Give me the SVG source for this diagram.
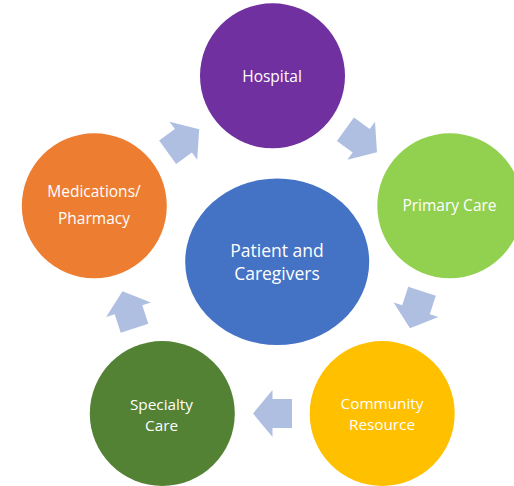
<svg xmlns="http://www.w3.org/2000/svg" width="514" height="486" viewBox="0 0 514 486">
<defs>
<style>
.lbl{font-family:"Open Sans","Liberation Sans",sans-serif;font-size:15.5px;fill:#FFFFFF;text-anchor:middle}
.ctr{font-size:17.5px}
.tight{font-size:15.3px}
.arr{fill:#AFBFE1}
</style>
<polygon id="blk" points="-19.5,-14.5 0,-14.5 0,-23.5 19.5,0 0,23.5 0,14.5 -19.5,14.5"/>
</defs>
<rect width="514" height="486" fill="#FFFFFF"/>
<g id="connectors" class="arr">
<use href="#blk" transform="translate(361.2,140.8) rotate(36)"/>
<use href="#blk" transform="translate(416,309.7) rotate(108)"/>
<use href="#blk" transform="translate(272.5,413.5) rotate(180)"/>
<use href="#blk" transform="translate(128.5,309.7) rotate(252)"/>
<use href="#blk" transform="translate(183.4,140.8) rotate(324)"/>
</g>
<g id="patient">
<ellipse cx="277.2" cy="261.7" rx="92" ry="83.3" fill="#4472C4"/>
<text class="lbl ctr"><tspan x="277" y="256.7">Patient and</tspan><tspan x="277" y="280">Caregivers</tspan></text>
</g>
<g id="hospital">
<circle cx="272.5" cy="75.8" r="72.5" fill="#7030A0"/>
<text class="lbl" x="272" y="81.7">Hospital</text>
</g>
<g id="primary-care">
<circle cx="449.8" cy="205.8" r="72.5" fill="#92D050"/>
<text class="lbl" x="449.5" y="211">Primary Care</text>
</g>
<g id="community-resource">
<circle cx="382.2" cy="413.5" r="72.5" fill="#FFC000"/>
<text class="lbl tight"><tspan x="382" y="409">Community</tspan><tspan x="382" y="430.2">Resource</tspan></text>
</g>
<g id="specialty-care">
<circle cx="162.3" cy="413.5" r="72.5" fill="#548235"/>
<text class="lbl tight"><tspan x="161.5" y="409.5">Specialty</tspan><tspan x="161.5" y="430.7">Care</tspan></text>
</g>
<g id="medications">
<circle cx="94.3" cy="205.8" r="72.5" fill="#ED7D31"/>
<text class="lbl"><tspan x="94" y="196.7">Medications/</tspan><tspan x="94" y="224">Pharmacy</tspan></text>
</g>
</svg>
